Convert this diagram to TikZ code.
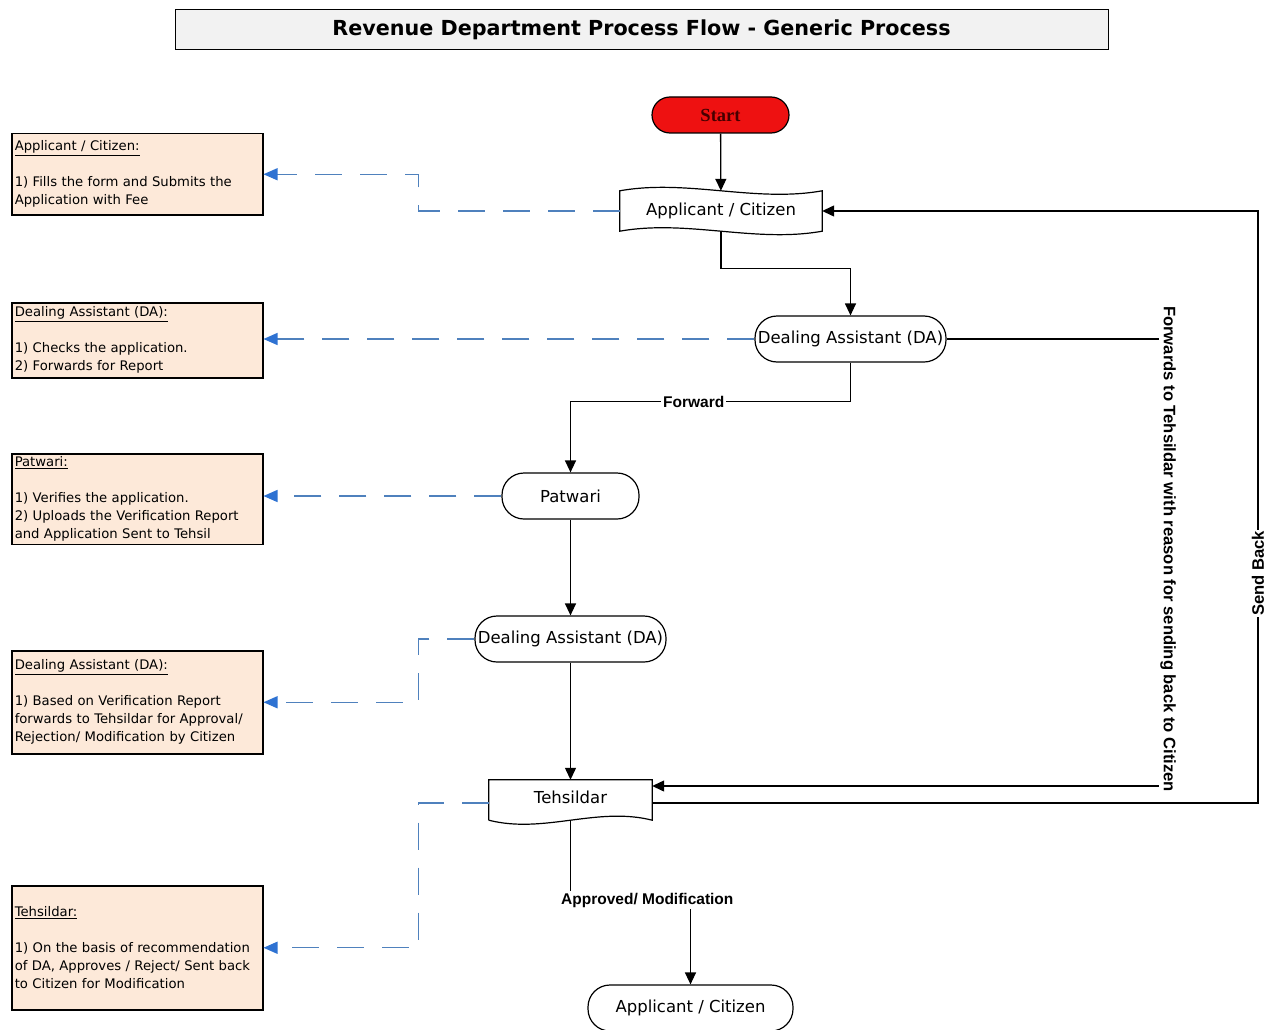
\documentclass[tikz,border=0pt]{standalone}
\usepackage{fontspec}
\setmainfont{DejaVu Sans}
\newfontfamily\arialf{Liberation Sans}
\newfontfamily\timesf{Liberation Serif}
\usetikzlibrary{arrows.meta,calc}
\definecolor{peach}{HTML}{FDE9D9}
\definecolor{dashblue}{HTML}{4F81BD}
\definecolor{tipblue}{HTML}{2E72D2}
\definecolor{startred}{HTML}{EE1111}
\definecolor{titlegray}{HTML}{F2F2F2}
\definecolor{starttext}{RGB}{70,0,0}
\begin{document}
\begin{tikzpicture}[x=1pt,y=-1pt,
  flow/.style={draw=black, line width=1.3pt, -{Triangle[length=12pt,width=11pt]}},
  plain/.style={draw=black, line width=1.3pt},
  note/.style={draw=dashblue, line width=1.4pt, dash pattern=on 27pt off 18pt, -{Triangle[length=14pt,width=12pt,color=tipblue]}},
  procbox/.style={draw, line width=1.2pt, rounded corners=22pt, minimum height=46pt, inner sep=0pt, fill=white, font=\fontsize{16.5}{20}\selectfont},
  plainnode/.style={minimum height=40pt, inner sep=0pt, font=\fontsize{16.5}{20}\selectfont},
  infobox/.style={draw, line width=1.5pt, fill=peach, minimum width=251pt, text width=245pt, align=left, inner sep=3pt, anchor=north west, font=\fontsize{13.2}{18}\selectfont},
  lab/.style={fill=white, inner sep=2pt, font=\arialf\bfseries\fontsize{15.5}{18}\selectfont},
  vlab/.style={fill=white, inner sep=1pt, font=\arialf\bfseries\fontsize{16.6}{18}\selectfont}
]
\useasboundingbox (0,0) rectangle (1271,1030);
\fill[white] (0,0) rectangle (1271,1030);

% title
\node[draw, line width=1pt, fill=titlegray, minimum width=933pt, minimum height=40pt, inner sep=0pt, font=\bfseries\fontsize{20.7}{24}\selectfont] (title) at (641.5,30) {Revenue Department Process Flow - Generic Process};

% main flow nodes
\node[draw, line width=1.2pt, fill=startred, rounded corners=18pt, minimum width=137pt, minimum height=36pt, inner sep=0pt, font=\timesf\bfseries\fontsize{18.5}{20}\selectfont, text=starttext] (start) at (720.5,115) {Start};

\node[plainnode, minimum width=202pt] (app1) at (721,211) {Applicant / Citizen};
\draw[line width=1.2pt, fill=white] (app1.north west) .. controls +(67,-12) and +(-67,12) .. (app1.north east) -- (app1.south east) .. controls +(-67,12) and +(67,-12) .. (app1.south west) -- cycle;
\node[plainnode] at (app1) {Applicant / Citizen};

\node[procbox, minimum width=191pt] (da1) at (850.5,339) {Dealing Assistant (DA)};
\node[procbox, minimum width=137pt] (pat) at (570.5,496) {Patwari};
\node[procbox, minimum width=191pt] (da2) at (570.5,639) {Dealing Assistant (DA)};

\node[plainnode, minimum width=163pt] (teh) at (570.5,800) {};
\draw[line width=1.2pt, fill=white] (teh.south west) -- (teh.north west) -- (teh.north east) -- (teh.south east) .. controls +(-55,-14) and +(55,14) .. (teh.south west);
\node[plainnode] at ([yshift=3pt]teh.center) {Tehsildar};

\node[procbox, minimum width=205pt] (app2) at (690.5,1008) {Applicant / Citizen};

% info boxes
\node[infobox, minimum height=81pt] (box1) at (11,133) {\underline{Applicant / Citizen:}\\[18pt]1) Fills the form and Submits the\\Application with Fee};
\node[infobox, minimum height=75pt] (box2) at (11,302) {\underline{Dealing Assistant (DA):}\\[18pt]1) Checks the application.\\2) Forwards for Report};
\node[infobox, minimum height=90pt] (box3) at (11,453) {\underline{Patwari:}\\[18pt]1) Verifies the application.\\2) Uploads the Verification Report\\and Application Sent to Tehsil};
\node[infobox, minimum height=103pt] (box4) at (11,650) {\underline{Dealing Assistant (DA):}\\[18pt]1) Based on Verification Report\\forwards to Tehsildar for Approval/\\Rejection/ Modification by Citizen};
\node[infobox, minimum height=124pt] (box5) at (11,885) {\underline{Tehsildar:}\\[18pt]1) On the basis of recommendation\\of DA, Approves / Reject/ Sent back\\to Citizen for Modification};

% dashed notes
\draw[note] (app1.west) -| ($(box1.east)+(155,0)$) -- (box1.east);
\draw[note] (da1.west) -- (da1.west -| box2.east);
\draw[note] (pat.west) -- (pat.west -| box3.east);
\draw[note] (da2.west) -| ($(box4.east)+(155,0)$) -- (box4.east);
\draw[note] ([yshift=-3pt]teh.west) -| ($(box5.east)+(155,0)$) -- (box5.east);

% black connectors
\draw[flow] (start) -- (app1);
\draw[flow] (app1.south) -- ++(0,37) -| (da1.north);
\draw[flow] (da1.south) -- ++(0,39) coordinate (fw) -- node[lab, pos=0.56] {Forward} (fw -| pat.north) -- (pat.north);
\draw[flow] (pat) -- (da2);
\draw[flow] (da2) -- (teh);
\draw[flow] (teh.south) -- ++(0,80) coordinate (am) -- node[lab, pos=0.64] {Approved/ Modification} (am -| app2.north) -- (app2.north);

\coordinate (tehin) at ([yshift=14pt]teh.east);
\coordinate (tehout) at ([yshift=-3pt]teh.east);
\draw[flow] (da1.east) -- (1168,339) -- node[vlab, rotate=-90, pos=0.47] {Forwards to Tehsildar with reason for sending back to Citizen} (1168,786) -- (tehin);
\draw[flow] (tehout) -- (1258,803) -- node[vlab, rotate=90, pos=0.388] {Send Back} (1258,211) -- (app1.east);
\end{tikzpicture}
\end{document}
